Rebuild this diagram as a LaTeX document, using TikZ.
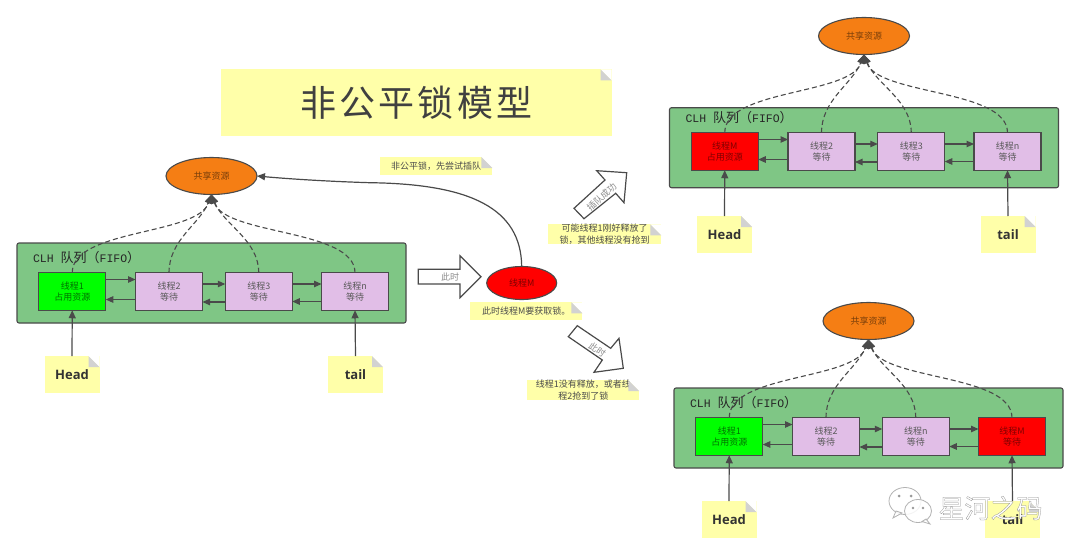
\documentclass[tikz,border=0pt]{standalone}
\usepackage{fontspec}
\setmainfont{Noto Sans CJK SC}
\newfontfamily\titlefont[LetterSpace=9]{Noto Sans CJK SC}
\newfontfamily\monofont{Liberation Mono}
\newfontfamily\labelfont{Open Sans}
\newfontfamily\wmfont[FakeBold=1.0]{Noto Sans CJK SC}
\usetikzlibrary{arrows.meta,calc,positioning,shapes.geometric}
\definecolor{stroke}{HTML}{4A4A4A}
\definecolor{panelgreen}{HTML}{7FC685}
\definecolor{lilac}{HTML}{E1BEE7}
\definecolor{notey}{HTML}{FFFFA9}
\definecolor{foldgray}{HTML}{D2D2D2}
\definecolor{orangefill}{HTML}{F57E14}
\definecolor{redfill}{HTML}{FF0000}
\definecolor{greenfill}{HTML}{00FF00}
\tikzset{
  x=1pt,y=-1pt,
  every node/.style={inner sep=0pt,outer sep=0pt,align=center,font=\fontsize{9}{11.5}\selectfont},
  queuebox/.style={draw=stroke,line width=1.1pt,minimum width=67pt,minimum height=37.5pt},
  waitbox/.style={queuebox,fill=lilac,text=black!65},
  holdbox/.style={queuebox,fill=greenfill,text=green!45!black},
  redbox/.style={queuebox,fill=redfill,text=red!50!black},
  panelbox/.style={draw=stroke,line width=1.1pt,fill=panelgreen,rounded corners=2pt,minimum width=389pt,minimum height=80pt},
  resource/.style={ellipse,draw=stroke,line width=1.1pt,fill=orangefill,text=orangefill!50!black,minimum width=91pt,minimum height=37pt},
  thread/.style={ellipse,draw=stroke,line width=1.1pt,fill=redfill,text=red!50!black,minimum width=70pt,minimum height=33pt},
  notebox/.style={fill=notey,text=black!70},
  tagnote/.style={notebox,minimum width=55pt,minimum height=37pt,font=\labelfont\bfseries\fontsize{13}{15}\selectfont,text=black!80},
  flow/.style={draw=stroke,line width=1.1pt,-{Triangle[length=7.5pt,width=6.5pt]}},
  pointer/.style={draw=stroke,line width=1.2pt,-{Triangle[length=8pt,width=7pt]}},
  share/.style={draw=stroke,line width=1.1pt,dash pattern=on 5pt off 3pt,-{Triangle[length=9pt,width=7pt]}},
  blockarrow/.style={draw=stroke,line width=1.2pt,fill=white,line join=miter},
  arrowtext/.style={text=black!45,font=\fontsize{9}{11}\selectfont},
}
\newcommand{\dogear}[1]{%
  \fill[white] (#1.north east) -- ++(-11,0) -- ++(11,11) -- cycle;
  \fill[foldgray] (#1.north east) ++(-11,0) -- ++(0,11) -- ++(11,0) -- cycle;}
% #1 prefix  #2 dx  #3 dy  #4 extra panel drop  #5 box1 style  #6 box1 text  #7 box3 text  #8 box4 style  #9 box4 text
\newcommand{\clhpanel}[9]{%
  \begin{scope}[shift={(#2,#3)}]
    \node[panelbox] (#1panel) at (211.5,283+#4) {};
    \node[font=\monofont\fontsize{11.5}{13}\selectfont,text=black!85,anchor=west] (#1title) at (33,258) {CLH {\fontsize{13}{13}\selectfont\rmfamily 队列（}FIFO{\fontsize{13}{13}\selectfont\rmfamily ）}};
    \node[#5] (#1a) at (72.25,291.5) {#6};
    \node[waitbox] (#1b) at (169,291.5) {线程2\\等待};
    \node[waitbox] (#1c) at (258.75,291.5) {#7};
    \node[#8] (#1d) at (355,291.5) {#9};
    \node[resource] (#1res) at (211.5,176) {共享资源};
    \node[tagnote] (#1head) at (72,374.5) {Head};
    \node[tagnote] (#1tail) at (355.5,374.5) {tail};
    \dogear{#1head}\dogear{#1tail}
    \draw[flow] ([yshift=12pt]#1a.east) -- ([yshift=12pt]#1b.west);
    \draw[flow] ([yshift=-8pt]#1b.west) -- ([yshift=-8pt]#1a.east);
    \draw[flow] ([yshift=7.5pt]#1b.east) -- ([yshift=7.5pt]#1c.west);
    \draw[flow] ([yshift=-10.5pt]#1c.west) -- ([yshift=-10.5pt]#1b.east);
    \draw[flow] ([yshift=7.5pt]#1c.east) -- ([yshift=7.5pt]#1d.west);
    \draw[flow] ([yshift=-10pt]#1d.west) -- ([yshift=-10pt]#1c.east);
    \draw[pointer] (#1head.north) -- (#1a.south);
    \draw[pointer] (#1tail.north) -- (#1d.south);
    \draw[share] (#1a.north) .. controls +(0,-44) and ($(#1res.south)+(-14,41)$) .. (#1res.south);
    \draw[share] (#1b.north) .. controls +(0,-33) and ($(#1res.south)+(-12,30)$) .. (#1res.south);
    \draw[share] (#1c.north) .. controls +(0,-33) and ($(#1res.south)+(12,30)$) .. (#1res.south);
    \draw[share] (#1d.north) .. controls +(0,-44) and ($(#1res.south)+(14,41)$) .. (#1res.south);
  \end{scope}}
\begin{document}
\begin{tikzpicture}
\useasboundingbox (0,0) rectangle (1080,555);
\fill[white] (0,0) rectangle (1080,555);

% title
\node[notebox,minimum width=390.5pt,minimum height=66.5pt,font=\titlefont\fontsize{36}{40}\selectfont,text=black!75] (title) at (416.3,102.6) {\raisebox{-2pt}{非公平锁模型}};
\dogear{title}

% panels
\clhpanel{L}{0}{0}{0}{holdbox}{线程1\\占用资源}{线程3\\等待}{waitbox}{线程n\\等待}
\clhpanel{T}{652.5}{-140}{4.7}{redbox}{线程M\\占用资源}{线程3\\等待}{waitbox}{线程n\\等待}
\clhpanel{B}{657}{145}{0}{holdbox}{线程1\\占用资源}{线程n\\等待}{redbox}{线程M\\等待}

% centre
\node[thread] (threadM) at (521.7,283) {线程M};
\node[notebox,minimum width=112.5pt,minimum height=18pt] (noteTry) at (436.2,166) {非公平锁，先尝试插队};
\dogear{noteTry}
\node[notebox,minimum width=112.5pt,minimum height=18pt] (noteGet) at (526.2,311.3) {此时线程M要获取锁。};
\dogear{noteGet}
\node[notebox,minimum width=113.5pt,minimum height=18pt,font=\fontsize{9}{11.5}\selectfont] (noteOk) at (604.5,234.3) {可能线程1刚好释放了\\锁，其他线程没有抢到};
\dogear{noteOk}
\node[notebox,minimum width=112pt,minimum height=18.5pt,font=\fontsize{9}{11.5}\selectfont] (noteFail) at (583.3,390) {线程1没有释放，或者线\\程2抢到了锁};
\dogear{noteFail}

\coordinate (bend) at (370,182.7);
\draw[pointer] (threadM.north) .. controls (521,208) and (470,184) .. (bend) .. controls (330,181.5) and (290,179) .. (Lres.east);

% block arrows
\draw[blockarrow] (418.3,269.3) -- (460,269.3) -- (460,255.7) -- (481,276.7) -- (460,297.7) -- (460,284) -- (418.3,284) -- cycle;
\node[arrowtext] (lblNow) at (450,276.7) {此时};
\draw[blockarrow] (574,208.3) -- (605,180) -- (596.7,170.7) -- (626.7,172.7) -- (624,202.7) -- (615.7,193.3) -- (584,218.7) -- cycle;
\node[arrowtext,rotate=42] (lblOk) at (601.7,196.7) {插队成功};
\draw[blockarrow] (568.3,336.7) -- (577.3,325.7) -- (610.7,348.3) -- (619,338.3) -- (623.3,368.3) -- (594,372.3) -- (602.3,360) -- cycle;
\node[arrowtext,rotate=-35] (lblFail) at (597.3,350) {此时};

% watermark
\begin{scope}[draw=black!30,line width=.8pt,fill=white,fill opacity=.85]
  \filldraw (905,501) ellipse (16 and 13.5);
  \filldraw (896,511) -- (893,518) -- (902,513) -- cycle;
  \filldraw (918,511) ellipse (13.5 and 11.5);
  \filldraw (926,519) -- (930,524) -- (922,521.5) -- cycle;
\end{scope}
\fill[black!40] (899,496) circle (1.5) (911,496) circle (1.5) (913,508) circle (1.4) (923,508) circle (1.4);
\node[font=\wmfont\fontsize{26}{28}\selectfont] (mark) at (990.5,508) {\special{pdf:bcolor [1 1 1] [0.55 0.55 0.55]}星河之码\special{pdf:ecolor}};
\end{tikzpicture}
\end{document}
